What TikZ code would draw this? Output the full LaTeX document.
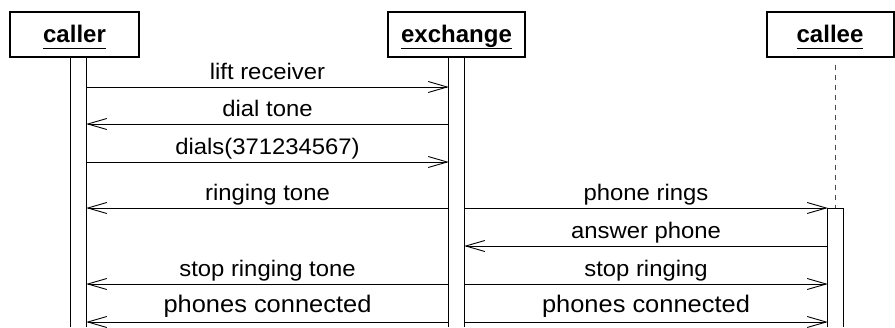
\documentclass[tikz,border=0pt]{standalone}
\usepackage{fontspec}
\setmainfont{Liberation Sans}
\newfontfamily\msgfont[FakeStretch=1.06]{Liberation Sans}
\usetikzlibrary{arrows.meta}

\newcommand{\objname}[1]{\underline{\textbf{#1}\vphantom{g}}}

\begin{document}
\begin{tikzpicture}[
  x=1pt, y=1pt,
  objbox/.style={
    draw,
    line width=2pt,
    minimum height=45pt,
    inner sep=0pt,
    text height=22pt,
    text depth=6pt,
    font=\fontsize{24}{28}\selectfont
  },
  actbar/.style={minimum width=15pt, inner sep=0pt, anchor=north},
  barline/.style={line width=0.9pt},
  lifeline/.style={dash pattern=on 5pt off 5pt, line width=1.2pt, draw=black!70},
  msg/.style={-{Straight Barb[length=19pt,width=11pt]}, line width=0.9pt},
  msglabel/.style={anchor=base, yshift=7.5pt, font=\msgfont\fontsize{22.5}{26}\selectfont},
  biglabel/.style={anchor=base, yshift=10pt, font=\msgfont\fontsize{24}{29}\selectfont}
]
\useasboundingbox (0,0) rectangle (895,-327);
% objects
\node[objbox, minimum width=129pt] (caller) at (74.5,-34) {\objname{caller}};
\node[objbox, minimum width=137pt] (exchange) at (456.5,-34) {\objname{exchange}};
\node[objbox, minimum width=127pt] (callee) at (830,-34) {\objname{callee}};
% activation bars
\node[actbar, minimum height=270pt] (callerbar) at (78.5,-57) {};
\node[actbar, minimum height=270pt] (exbar) at (456.5,-57) {};
\node[actbar, minimum height=119pt] (calleebar) at (835.5,-208) {};
\draw[barline] (callerbar.north west) -- (callerbar.south west)
  (callerbar.north east) -- (callerbar.south east);
\draw[barline] (exbar.north west) -- (exbar.south west)
  (exbar.north east) -- (exbar.south east);
\draw[barline] (calleebar.south west) |- (calleebar.north east) -- (calleebar.south east);
\draw[lifeline, shorten <=7pt] (callee.south -| calleebar.north) -- (calleebar.north);
% messages
\draw[msg] (callerbar.east |- 0,-87) -- (exbar.west |- 0,-87) node[msglabel, midway] {lift receiver};
\draw[msg] (exbar.west |- 0,-124) -- (callerbar.east |- 0,-124) node[msglabel, midway] {dial tone};
\draw[msg] (callerbar.east |- 0,-162) -- (exbar.west |- 0,-162) node[msglabel, midway] {dials(371234567)};
\draw[msg] (exbar.west |- 0,-208) -- (callerbar.east |- 0,-208) node[msglabel, midway] {ringing tone};
\draw[msg] (exbar.east |- 0,-208) -- (calleebar.west |- 0,-208) node[msglabel, midway] {phone rings};
\draw[msg] (calleebar.west |- 0,-246) -- (exbar.east |- 0,-246) node[msglabel, midway] {answer phone};
\draw[msg] (exbar.west |- 0,-284) -- (callerbar.east |- 0,-284) node[msglabel, midway] {stop ringing tone};
\draw[msg] (exbar.east |- 0,-284) -- (calleebar.west |- 0,-284) node[msglabel, midway] {stop ringing};
\draw[msg] (exbar.west |- 0,-322) -- (callerbar.east |- 0,-322) node[biglabel, midway] {phones connected};
\draw[msg] (exbar.east |- 0,-322) -- (calleebar.west |- 0,-322) node[biglabel, midway] {phones connected};
\end{tikzpicture}
\end{document}
